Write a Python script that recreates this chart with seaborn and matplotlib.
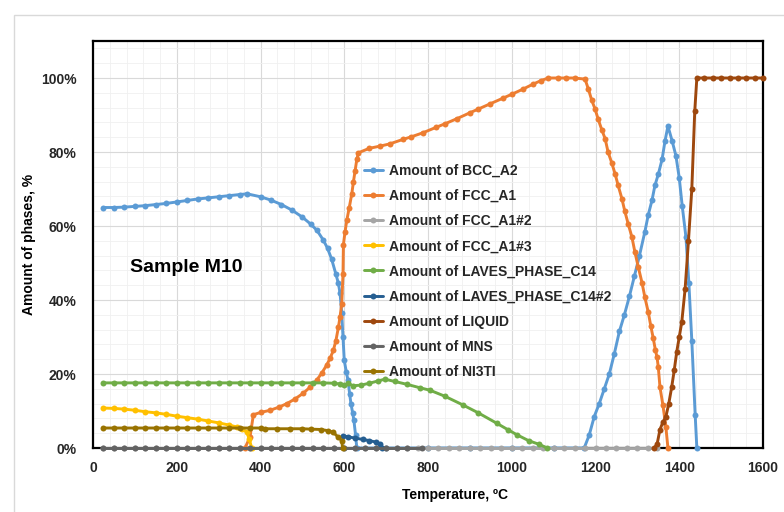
import matplotlib
matplotlib.use('Agg')
import matplotlib.pyplot as plt
import seaborn as sns
from matplotlib.ticker import MultipleLocator, FuncFormatter
from matplotlib.patches import Rectangle

# ---------------- data ----------------
bcc_T = [25, 50, 75, 100, 125, 150, 175, 200, 225, 250, 275, 300, 325, 350, 368,
         400, 425, 450, 475, 500, 520, 535, 550, 560, 570, 580, 586, 590, 594, 597,
         600, 605, 609, 613, 616, 620, 623, 627, 630, 700, 800, 900, 1000, 1100,
         1173, 1185, 1197, 1209, 1221, 1233, 1245, 1257, 1269, 1281, 1293, 1305,
         1318, 1326, 1335, 1342, 1350, 1359, 1366, 1373, 1383, 1392, 1400, 1407,
         1416, 1423, 1430, 1438, 1442]
bcc_V = [65.0, 65.0, 65.1, 65.3, 65.5, 65.8, 66.1, 66.5, 66.9, 67.3, 67.6, 67.9, 68.2, 68.5, 68.7,
         67.9, 67.0, 65.8, 64.3, 62.4, 60.5, 58.8, 56.2, 54.0, 51.0, 47.0, 44.5, 41.8, 36.4, 30.0,
         23.7, 20.5, 18.3, 14.5, 12.0, 9.5, 7.5, 3.5, 0.0, 0.0, 0.0, 0.0, 0.0, 0.0,
         0.0, 3.5, 8.5, 12.0, 16.0, 20.0, 25.5, 31.5, 36.0, 41.0, 46.5, 52.0,
         58.5, 63.0, 67.0, 71.0, 74.0, 78.0, 83.0, 87.0, 83.0, 79.0, 73.0, 65.5,
         57.0, 44.5, 29.0, 9.0, 0.0]

fcc_T = [363, 375, 383, 400, 423, 443, 463, 483, 502, 518, 534, 546, 558, 566, 574,
         580, 586, 590, 594, 597, 598, 602, 606, 612, 618, 622, 626, 630, 634, 660,
         686, 709, 740, 760, 788, 820, 840, 869, 900, 920, 948, 980, 1000, 1027,
         1050, 1070, 1087, 1110, 1130, 1150, 1175, 1183, 1191, 1199, 1206, 1215,
         1223, 1230, 1239, 1247, 1254, 1263, 1270, 1278, 1287, 1294, 1302, 1311,
         1318, 1326, 1332, 1338, 1343, 1347, 1350, 1354, 1361, 1368, 1373]
fcc_V = [0.0, 3.0, 9.0, 9.6, 10.2, 11.0, 12.0, 13.3, 14.8, 16.4, 18.3, 20.2, 22.4, 24.2, 26.4,
         29.0, 32.6, 35.5, 39.0, 47.0, 55.0, 58.5, 61.5, 65.0, 68.7, 72.0, 75.0, 78.0, 79.8, 81.0,
         81.6, 82.2, 83.4, 84.1, 85.2, 86.7, 87.6, 89.0, 90.6, 91.6, 93.0, 94.6, 95.6, 97.0,
         98.3, 99.3, 100.0, 100.0, 100.0, 100.0, 99.7, 97.0, 94.0, 91.6, 89.0, 86.0,
         83.6, 80.0, 77.0, 74.0, 71.0, 67.4, 64.0, 60.6, 57.0, 53.0, 49.0, 44.7,
         40.7, 36.7, 33.0, 29.6, 26.5, 24.5, 21.8, 16.4, 11.6, 5.7, 0.0]

fcc2_T = [25, 50, 75, 100, 125, 150, 175, 200, 225, 250, 275, 300, 325, 350, 375,
          400, 425, 450, 475, 500, 525, 550, 575, 600, 625, 650, 675, 700, 725, 750,
          775, 800, 825, 850, 875, 900, 925, 950, 975, 1000, 1025, 1050, 1075, 1100,
          1125, 1150, 1175, 1200, 1225, 1250, 1275, 1300, 1325, 1347]
fcc2_V = [0.0] * len(fcc2_T)

fcc3_T = [25, 50, 75, 100, 125, 150, 175, 200, 225, 250, 275, 300, 325, 343, 355, 367, 373, 379]
fcc3_V = [10.8, 10.7, 10.5, 10.2, 9.8, 9.5, 9.1, 8.6, 8.2, 7.8, 7.3, 6.8, 6.2, 5.7, 5.2, 4.3, 2.5, 0.0]

laves_T = [25, 50, 75, 100, 125, 150, 175, 200, 225, 250, 275, 300, 325, 350, 375,
           400, 425, 450, 475, 500, 525, 550, 575, 590, 600, 610, 620, 640, 660, 680,
           697, 720, 750, 780, 805, 840, 884, 920, 964, 990, 1012, 1040, 1065, 1085]
laves_V = [17.6, 17.6, 17.6, 17.6, 17.6, 17.6, 17.6, 17.6, 17.6, 17.6, 17.6, 17.6, 17.6, 17.6, 17.6,
           17.6, 17.6, 17.6, 17.6, 17.6, 17.6, 17.6, 17.5, 17.3, 16.9, 17.5, 16.8, 17.0, 17.5, 18.1,
           18.6, 18.0, 17.2, 16.3, 15.6, 14.0, 11.6, 9.5, 6.7, 5.0, 3.6, 2.0, 1.0, 0.0]

laves2_T = [597, 610, 625, 645, 660, 675, 685, 690]
laves2_V = [3.3, 3.0, 2.7, 2.3, 2.0, 1.6, 1.2, 0.0]

liquid_T = [1340, 1347, 1354, 1361, 1368, 1375, 1382, 1388, 1394, 1400, 1406, 1414, 1422,
            1430, 1437, 1442, 1460, 1480, 1500, 1520, 1540, 1560, 1580, 1600]
liquid_V = [0.0, 1.0, 5.0, 7.0, 8.4, 12.0, 16.5, 21.0, 26.0, 30.0, 34.0, 43.0, 56.0,
            70.0, 91.0, 100.0, 100.0, 100.0, 100.0, 100.0, 100.0, 100.0, 100.0, 100.0]

mns_T = [25, 50, 75, 100, 125, 150, 175, 200, 225, 250, 275, 300, 325, 350, 375,
         400, 425, 450, 475, 500, 525, 550, 575, 600, 625, 650, 675, 700, 725, 750, 786]
mns_V = [0.0] * len(mns_T)

ni3ti_T = [25, 50, 75, 100, 125, 150, 175, 200, 225, 250, 275, 300, 325, 350, 375,
           400, 411, 440, 470, 500, 520, 545, 560, 573, 585, 594, 596]
ni3ti_V = [5.4, 5.4, 5.4, 5.4, 5.4, 5.4, 5.4, 5.4, 5.4, 5.4, 5.4, 5.4, 5.4, 5.4, 5.4,
           5.4, 5.2, 5.2, 5.2, 5.2, 5.1, 5.0, 4.7, 4.3, 3.0, 2.0, 0.0]

names = ["Amount of BCC_A2", "Amount of FCC_A1", "Amount of FCC_A1#2", "Amount of FCC_A1#3",
         "Amount of LAVES_PHASE_C14", "Amount of LAVES_PHASE_C14#2", "Amount of LIQUID",
         "Amount of MNS", "Amount of NI3TI"]
colors = ["#5B9BD5", "#ED7D31", "#A5A5A5", "#FFC000", "#70AD47", "#255E91", "#9E480E",
          "#636363", "#997300"]
x_ticks = [0, 200, 400, 600, 800, 1000, 1200, 1400, 1600]
y_ticks = [0, 20, 40, 60, 80, 100]

series = [(bcc_T, bcc_V), (fcc_T, fcc_V), (fcc2_T, fcc2_V), (fcc3_T, fcc3_V),
          (laves_T, laves_V), (laves2_T, laves2_V), (liquid_T, liquid_V),
          (mns_T, mns_V), (ni3ti_T, ni3ti_V)]

# ---------------- plotting ----------------
sns.set_theme(style='white')
plt.rcParams['font.family'] = ['Liberation Sans', 'DejaVu Sans']
plt.rcParams['font.weight'] = 'bold'

fig = plt.figure(figsize=(7.84, 5.12), dpi=100)
fig.patches.append(Rectangle((14 / 784, -0.1), 1.2, 1.1 - 15 / 512, transform=fig.transFigure,
                             fill=False, edgecolor='#D9D9D9', linewidth=1.0))
ax = fig.add_axes([93 / 784, 1 - 448 / 512, 670 / 784, 407 / 512])

for (T, V), name, c in zip(series, names, colors):
    sns.lineplot(x=T, y=V, ax=ax, color=c, marker='o', markersize=4.3, markeredgewidth=0,
                 linewidth=2.1, label=name, estimator=None, sort=False, errorbar=None,
                 zorder=3, clip_on=False)

ax.set_xlim(0, 1600)
ax.set_ylim(0, 110)
ax.set_xticks(x_ticks)
ax.set_yticks(y_ticks)
ax.xaxis.set_minor_locator(MultipleLocator(40))
ax.yaxis.set_minor_locator(MultipleLocator(4))
ax.yaxis.set_major_formatter(FuncFormatter(lambda v, p: f"{int(v)}%"))
ax.set_axisbelow(True)
ax.grid(which='major', color='#D9D9D9', linewidth=0.8)
ax.grid(which='minor', color='#F0F0F0', linewidth=0.6)
ax.tick_params(which='both', length=0, labelsize=10, colors='#262626')
ax.tick_params(axis='y', pad=12)
ax.tick_params(axis='x', pad=9)
for s in ax.spines.values():
    s.set_visible(True)
    s.set_color('black')
    s.set_linewidth(1.6)
    s.set_zorder(2.5)

ax.set_xlabel("Temperature, ºC", fontsize=10, fontweight='bold', color='black')
ax.set_ylabel("Amount of phases, %", fontsize=10, fontweight='bold', color='black')
ax.xaxis.set_label_coords(0.54, -0.099)
ax.yaxis.set_label_coords(-0.085, 0.5)

ax.text(88, 48.8, "Sample M10", fontsize=14, fontweight='bold', va='center', ha='left', color='black')

ax.legend(loc='upper left', bbox_to_anchor=(0.404, 0.698), frameon=False, fontsize=10,
          handlelength=1.4, handletextpad=0.4, labelspacing=0.8, borderaxespad=0, borderpad=0)

fig.savefig('out.png', dpi=100)
